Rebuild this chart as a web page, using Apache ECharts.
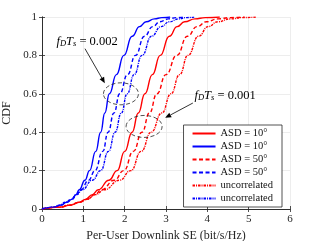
<!DOCTYPE html>
<html>
<head>
<meta charset="utf-8">
<script src="https://cdn.jsdelivr.net/npm/echarts@6/dist/echarts.min.js"></script>
<style>
html,body{margin:0;padding:0;background:#fff;}
#chart{width:321px;height:241px;}
</style>
</head>
<body>
<div id="chart"></div>
<script>
// CDF levels shared by all curves
const cdfLevels = [0, 0.01, 0.02, 0.035, 0.05, 0.075, 0.1, 0.15, 0.2, 0.3, 0.4, 0.5, 0.6, 0.7, 0.8, 0.9, 0.95, 0.975, 0.99, 0.997, 1];
// Per-user downlink SE (bit/s/Hz) at each CDF level
const seBlueAsd10  = [0, 0.30, 0.45, 0.60, 0.72, 0.82, 0.90, 1.04, 1.15, 1.30, 1.42, 1.52, 1.63, 1.80, 1.98, 2.18, 2.36, 2.52, 2.72, 2.90, 3.10];
const seBlueAsd50  = [0, 0.30, 0.45, 0.60, 0.73, 0.84, 0.94, 1.13, 1.28, 1.47, 1.60, 1.74, 1.88, 2.07, 2.26, 2.48, 2.68, 2.85, 3.05, 3.25, 3.45];
const seBlueUncorr = [0, 0.28, 0.42, 0.57, 0.70, 0.84, 0.97, 1.22, 1.42, 1.61, 1.77, 1.92, 2.06, 2.23, 2.42, 2.65, 2.88, 3.08, 3.30, 3.50, 3.70];
const seRedAsd10   = [0, 0.45, 0.68, 0.90, 1.05, 1.22, 1.36, 1.62, 1.82, 2.00, 2.18, 2.33, 2.49, 2.67, 2.86, 3.08, 3.27, 3.45, 3.70, 3.95, 4.30];
const seRedAsd50   = [0, 0.45, 0.68, 0.92, 1.08, 1.28, 1.44, 1.75, 1.98, 2.21, 2.42, 2.60, 2.78, 3.00, 3.26, 3.52, 3.75, 3.98, 4.25, 4.55, 4.90];
const seRedUncorr  = [0, 0.42, 0.65, 0.90, 1.08, 1.30, 1.50, 1.88, 2.15, 2.40, 2.64, 2.90, 3.12, 3.33, 3.53, 3.79, 4.02, 4.25, 4.55, 4.85, 5.20];

const xTicks = [0, 1, 2, 3, 4, 5, 6];
const yTicks = [0, 0.2, 0.4, 0.6, 0.8, 1];

const seriesNames = ['r10', 'b10', 'r50', 'b50', 'ru', 'bu'];
const legendLabels = {
  r10: 'ASD = 10\u00b0', b10: 'ASD = 10\u00b0',
  r50: 'ASD = 50\u00b0', b50: 'ASD = 50\u00b0',
  ru: 'uncorrelated', bu: 'uncorrelated'
};

const RED = '#ff0000', BLUE = '#0000ff';
const DASH = [4, 2.5];
const DASHDOT = [2.5, 1, 1, 1];
const FONT = 'Liberation Serif';

function pairs(xs) { return xs.map((x, i) => [x, cdfLevels[i]]); }
function mk(name, xs, color, type) {
  return {
    name: name, type: 'line', data: pairs(xs), showSymbol: false, symbol: 'none',
    smooth: 0.5, smoothMonotone: 'x',
    lineStyle: { color: color, width: 1.4, type: type },
    itemStyle: { color: color },
    xAxisIndex: 0, yAxisIndex: 0, animation: false, z: 3
  };
}

const chart = echarts.init(document.getElementById('chart'), null, { renderer: 'canvas' });

const axisCommon = {
  min: 0, axisLine: { show: true, lineStyle: { color: '#262626', width: 0.8 } },
  axisTick: { show: true, inside: true, length: 3, lineStyle: { color: '#262626', width: 0.8 } }
};

const option = {
  animation: false,
  backgroundColor: '#fff',
  grid: { left: 42, right: 31, top: 17, bottom: 32, containLabel: false, outerBoundsMode: 'none' },
  xAxis: [
    Object.assign({}, axisCommon, {
      type: 'value', max: 6, interval: 1, position: 'bottom',
      name: 'Per-User Downlink SE (bit/s/Hz)', nameLocation: 'middle', nameGap: 17,
      nameTextStyle: { fontFamily: FONT, fontSize: 12, color: '#262626' },
      axisLabel: { fontFamily: FONT, fontSize: 11, color: '#262626', margin: 5,
        formatter: v => xTicks.includes(v) ? String(v) : '' },
      splitLine: { show: true, lineStyle: { color: '#e8e8e8', width: 0.8 } }
    }),
    Object.assign({}, axisCommon, {
      type: 'value', max: 6, interval: 1, position: 'top',
      axisLabel: { show: false }, splitLine: { show: false }
    })
  ],
  yAxis: [
    Object.assign({}, axisCommon, {
      type: 'value', max: 1, interval: 0.2, position: 'left',
      name: 'CDF', nameLocation: 'middle', nameGap: 26, nameRotate: 90,
      nameTextStyle: { fontFamily: FONT, fontSize: 12, color: '#262626' },
      axisLabel: { fontFamily: FONT, fontSize: 11, color: '#262626', margin: 5,
        formatter: v => { const t = yTicks.find(y => Math.abs(y - v) < 1e-9); return t === undefined ? '' : String(+t.toFixed(1)); } },
      splitLine: { show: true, lineStyle: { color: '#e8e8e8', width: 0.8 } }
    }),
    Object.assign({}, axisCommon, {
      type: 'value', max: 1, interval: 0.2, position: 'right',
      axisLabel: { show: false }, splitLine: { show: false }
    })
  ],
  legend: {
    data: seriesNames, orient: 'vertical', right: 39, top: 125,
    itemWidth: 23, itemHeight: 10, itemGap: 2,
    padding: [3, 9, 3, 8],
    backgroundColor: '#fff', borderColor: '#262626', borderWidth: 0.8, borderRadius: 0,
    formatter: n => legendLabels[n],
    itemStyle: { opacity: 0 },
    textStyle: { fontFamily: FONT, fontSize: 10.5, color: '#111' },
    selectedMode: false, z: 10
  },
  series: [
    mk('r10', seRedAsd10, RED, 'solid'),
    mk('b10', seBlueAsd10, BLUE, 'solid'),
    mk('r50', seRedAsd50, RED, DASH),
    mk('b50', seBlueAsd50, BLUE, DASH),
    mk('ru', seRedUncorr, RED, DASHDOT),
    mk('bu', seBlueUncorr, BLUE, DASHDOT)
  ]
};
chart.setOption(option);

// Annotations (positioned in data coordinates)
function P(x, y) { return chart.convertToPixel({ gridIndex: 0 }, [x, y]); }
function arrow(from, to) {
  const a = P(from[0], from[1]), b = P(to[0], to[1]);
  const ang = Math.atan2(b[1] - a[1], b[0] - a[0]);
  const L = 6, W = 2.6;
  const bx = b[0] - L * Math.cos(ang), by = b[1] - L * Math.sin(ang);
  const px = -Math.sin(ang) * W, py = Math.cos(ang) * W;
  return [
    { type: 'line', shape: { x1: a[0], y1: a[1], x2: bx, y2: by }, style: { stroke: '#000', lineWidth: 0.8 }, z: 20 },
    { type: 'polygon', shape: { points: [[b[0], b[1]], [bx + px, by + py], [bx - px, by - py]] }, style: { fill: '#000' }, z: 20 }
  ];
}
function ellipse(cx, cy, rx, ry) {
  const c = P(cx, cy);
  return { type: 'ellipse', shape: { cx: c[0], cy: c[1], rx: rx, ry: ry },
    style: { fill: 'none', stroke: '#222', lineWidth: 0.8, lineDash: [4, 2.5] }, z: 20 };
}
function label(x, y, val) {
  const p = P(x, y);
  return { type: 'text', x: p[0], y: p[1], z: 20,
    style: {
      text: '{i|f}{s|D}{i|T}{s|s}{n| = ' + val + '}',
      align: 'center', verticalAlign: 'middle',
      rich: {
        i: { fontFamily: FONT, fontStyle: 'italic', fontSize: 12.5, color: '#000', verticalAlign: 'bottom', lineHeight: 14 },
        s: { fontFamily: FONT, fontStyle: 'italic', fontSize: 8.5, color: '#000', verticalAlign: 'bottom', lineHeight: 11 },
        n: { fontFamily: FONT, fontSize: 12.5, color: '#000', verticalAlign: 'bottom', lineHeight: 14 }
      }
    } };
}
const graphics = [].concat(
  [ellipse(1.91, 0.60, 17.5, 11), ellipse(2.47, 0.43, 18, 11)],
  arrow([1.04, 0.835], [1.52, 0.655]),
  arrow([3.65, 0.552], [2.98, 0.475]),
  [label(1.09, 0.872, '0.002'), label(4.43, 0.593, '0.001')]
);
chart.setOption({ graphic: graphics });
</script>
</body>
</html>
